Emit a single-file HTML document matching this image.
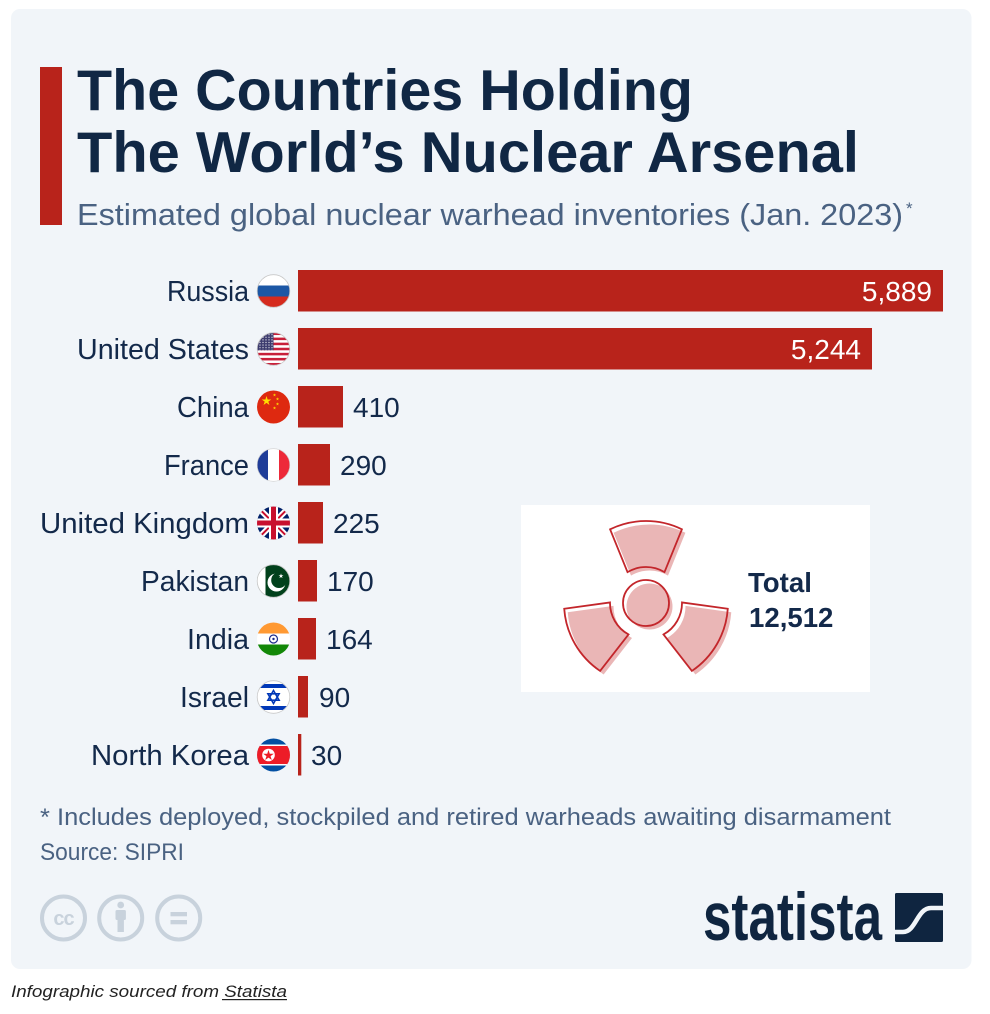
<!DOCTYPE html>
<html>
<head>
<meta charset="utf-8">
<style>
html,body{margin:0;padding:0;background:#fff;}
svg{display:block;}
</style>
</head>
<body>
<svg width="990" height="1014" viewBox="0 0 990 1014" xmlns="http://www.w3.org/2000/svg" font-family="'Liberation Sans', Arial, sans-serif">
<defs>
  <clipPath id="fc"><circle cx="0" cy="0" r="16.5"/></clipPath>
  <path id="star" d="M0,-1 L0.2245,-0.309 L0.951,-0.309 L0.363,0.118 L0.588,0.809 L0,0.382 L-0.588,0.809 L-0.363,0.118 L-0.951,-0.309 L-0.2245,-0.309 Z"/>
  <pattern id="dots" x="0" y="0" width="3" height="2.6" patternUnits="userSpaceOnUse">
    <circle cx="1.5" cy="1.3" r="0.6" fill="#fff"/>
  </pattern>
  <path id="blade" d="M610.1,529.3 A82,82 0 0 1 681.9,529.3 L664.5,572.1 A36,36 0 0 0 627.5,572.1 Z"/>
</defs>

<!-- card -->
<rect x="11" y="9" width="960.5" height="960" rx="9" fill="#f1f5f9"/>

<!-- accent bar -->
<rect x="40" y="67" width="22" height="158" fill="#b8231b"/>

<!-- title -->
<text x="77" y="110" font-size="57.5" font-weight="bold" fill="#102744" textLength="616" lengthAdjust="spacingAndGlyphs">The Countries Holding</text>
<text x="77" y="172" font-size="57.5" font-weight="bold" fill="#102744" textLength="782" lengthAdjust="spacingAndGlyphs">The World’s Nuclear Arsenal</text>
<text x="77" y="225" font-size="31" fill="#4a6282" textLength="826" lengthAdjust="spacingAndGlyphs">Estimated global nuclear warhead inventories (Jan. 2023)</text>
<text x="906" y="214" font-size="17" fill="#4a6282">*</text>

<!-- bars -->
<g fill="#b8231b">
  <rect x="298" y="270" width="645" height="41.5"/>
  <rect x="298" y="328" width="574" height="41.5"/>
  <rect x="298" y="386" width="45" height="41.5"/>
  <rect x="298" y="444" width="32" height="41.5"/>
  <rect x="298" y="502" width="25" height="41.5"/>
  <rect x="298" y="560" width="19" height="41.5"/>
  <rect x="298" y="618" width="18" height="41.5"/>
  <rect x="298" y="676" width="10" height="41.5"/>
  <rect x="298" y="734" width="3.3" height="41.5"/>
</g>

<!-- labels -->
<g font-size="28.5" fill="#13294a" text-anchor="end" lengthAdjust="spacingAndGlyphs">
  <text x="249" y="301" textLength="82" lengthAdjust="spacingAndGlyphs">Russia</text>
  <text x="249" y="359" textLength="172" lengthAdjust="spacingAndGlyphs">United States</text>
  <text x="249" y="417" textLength="72" lengthAdjust="spacingAndGlyphs">China</text>
  <text x="249" y="475" textLength="85" lengthAdjust="spacingAndGlyphs">France</text>
  <text x="249" y="533" textLength="209" lengthAdjust="spacingAndGlyphs">United Kingdom</text>
  <text x="249" y="591" textLength="108" lengthAdjust="spacingAndGlyphs">Pakistan</text>
  <text x="249" y="649" textLength="62" lengthAdjust="spacingAndGlyphs">India</text>
  <text x="249" y="707" textLength="69" lengthAdjust="spacingAndGlyphs">Israel</text>
  <text x="249" y="765" textLength="158" lengthAdjust="spacingAndGlyphs">North Korea</text>
</g>

<!-- values -->
<g font-size="28" fill="#13294a">
  <text x="932" y="301" fill="#ffffff" text-anchor="end">5,889</text>
  <text x="861" y="359" fill="#ffffff" text-anchor="end">5,244</text>
  <text x="353" y="417">410</text>
  <text x="340" y="475">290</text>
  <text x="333" y="533">225</text>
  <text x="327" y="591">170</text>
  <text x="326" y="649">164</text>
  <text x="319" y="707">90</text>
  <text x="311" y="765">30</text>
</g>

<!-- flags -->
<!-- Russia -->
<g transform="translate(273.5,291)">
  <g clip-path="url(#fc)">
    <rect x="-17" y="-17" width="34" height="11.5" fill="#ffffff"/>
    <rect x="-17" y="-5.5" width="34" height="11" fill="#1c57a5"/>
    <rect x="-17" y="5.5" width="34" height="12" fill="#d52b1e"/>
  </g>
  <circle r="16.3" fill="none" stroke="#c8c8c8" stroke-width="0.8"/>
</g>
<!-- USA -->
<g transform="translate(273.5,349)">
  <g clip-path="url(#fc)">
    <rect x="-17" y="-17" width="34" height="34" fill="#ffffff"/>
    <g fill="#c8203a">
      <rect x="-17" y="-16.5" width="34" height="2.54"/>
      <rect x="-17" y="-11.42" width="34" height="2.54"/>
      <rect x="-17" y="-6.34" width="34" height="2.54"/>
      <rect x="-17" y="-1.26" width="34" height="2.54"/>
      <rect x="-17" y="3.82" width="34" height="2.54"/>
      <rect x="-17" y="8.9" width="34" height="2.54"/>
      <rect x="-17" y="13.98" width="34" height="2.54"/>
    </g>
    <rect x="-17" y="-17" width="17" height="18.3" fill="#3c3b6e"/>
    <rect x="-17" y="-17" width="17" height="18.3" fill="url(#dots)"/>
  </g>
  <circle r="16.3" fill="none" stroke="#c8c8c8" stroke-width="0.8"/>
</g>
<!-- China -->
<g transform="translate(273.5,407)">
  <g clip-path="url(#fc)">
    <rect x="-17" y="-17" width="34" height="34" fill="#de2910"/>
    <use href="#star" transform="translate(-7,-6) scale(5)" fill="#ffde00"/>
    <use href="#star" transform="translate(1,-12) scale(1.7)" fill="#ffde00"/>
    <use href="#star" transform="translate(4,-8) scale(1.7)" fill="#ffde00"/>
    <use href="#star" transform="translate(4,-3) scale(1.7)" fill="#ffde00"/>
    <use href="#star" transform="translate(1,1) scale(1.7)" fill="#ffde00"/>
  </g>
</g>
<!-- France -->
<g transform="translate(273.5,465)">
  <g clip-path="url(#fc)">
    <rect x="-17" y="-17" width="12" height="34" fill="#1f3d99"/>
    <rect x="-5.5" y="-17" width="11" height="34" fill="#ffffff"/>
    <rect x="5.5" y="-17" width="12" height="34" fill="#ed2939"/>
  </g>
  <circle r="16.3" fill="none" stroke="#d0d0d0" stroke-width="0.6"/>
</g>
<!-- UK -->
<g transform="translate(273.5,523)">
  <g clip-path="url(#fc)">
    <rect x="-17" y="-17" width="34" height="34" fill="#012169"/>
    <path d="M-17,-17 L17,17 M17,-17 L-17,17" stroke="#ffffff" stroke-width="6"/>
    <path d="M-17,-17 L17,17 M17,-17 L-17,17" stroke="#c8102e" stroke-width="2"/>
    <path d="M0,-17 V17 M-17,0 H17" stroke="#ffffff" stroke-width="9"/>
    <path d="M0,-17 V17 M-17,0 H17" stroke="#c8102e" stroke-width="5"/>
  </g>
</g>
<!-- Pakistan -->
<g transform="translate(273.5,581)">
  <g clip-path="url(#fc)">
    <rect x="-17" y="-17" width="34" height="34" fill="#01411c"/>
    <rect x="-17" y="-17" width="9" height="34" fill="#ffffff"/>
    <circle cx="3" cy="1.5" r="9" fill="#ffffff"/>
    <circle cx="5.5" cy="-0.8" r="7.8" fill="#01411c"/>
    <use href="#star" transform="translate(7.5,-5) scale(2.6)" fill="#ffffff"/>
  </g>
  <circle r="16.3" fill="none" stroke="#c8c8c8" stroke-width="0.8"/>
</g>
<!-- India -->
<g transform="translate(273.5,639)">
  <g clip-path="url(#fc)">
    <rect x="-17" y="-17" width="34" height="11.5" fill="#ff9933"/>
    <rect x="-17" y="-5.5" width="34" height="11" fill="#ffffff"/>
    <rect x="-17" y="5.5" width="34" height="12" fill="#138808"/>
    <circle r="4" fill="none" stroke="#1a2a8a" stroke-width="1.2"/>
    <circle r="1.2" fill="#1a2a8a"/>
  </g>
</g>
<!-- Israel -->
<g transform="translate(273.5,697)">
  <g clip-path="url(#fc)">
    <rect x="-17" y="-17" width="34" height="34" fill="#ffffff"/>
    <rect x="-17" y="-13" width="34" height="4" fill="#0038b8"/>
    <rect x="-17" y="9" width="34" height="4" fill="#0038b8"/>
    <path d="M0,-6.5 L5.6,3.2 L-5.6,3.2 Z M0,6.5 L5.6,-3.2 L-5.6,-3.2 Z" fill="none" stroke="#0038b8" stroke-width="1.6"/>
  </g>
  <circle r="16.3" fill="none" stroke="#c8c8c8" stroke-width="0.8"/>
</g>
<!-- North Korea -->
<g transform="translate(273.5,755)">
  <g clip-path="url(#fc)">
    <rect x="-17" y="-17" width="34" height="34" fill="#024fa2"/>
    <rect x="-17" y="-10.5" width="34" height="21" fill="#ffffff"/>
    <rect x="-17" y="-9" width="34" height="18" fill="#ed1c27"/>
    <circle cx="-5" cy="0" r="6.3" fill="#ffffff"/>
    <use href="#star" transform="translate(-5,0.5) scale(5.6)" fill="#ed1c27"/>
  </g>
</g>

<!-- total box -->
<rect x="521" y="505" width="349" height="187" fill="#ffffff"/>
<g>
  <g transform="translate(3.5,3.5)" fill="#eab6b6">
    <use href="#blade"/>
    <use href="#blade" transform="rotate(120 646 603)"/>
    <use href="#blade" transform="rotate(240 646 603)"/>
    <circle cx="646" cy="603" r="23"/>
  </g>
  <g fill="none" stroke="#c3262b" stroke-width="1.8" stroke-linejoin="miter">
    <use href="#blade"/>
    <use href="#blade" transform="rotate(120 646 603)"/>
    <use href="#blade" transform="rotate(240 646 603)"/>
    <circle cx="646" cy="603" r="23"/>
  </g>
</g>
<text x="748" y="592" font-size="27.6" font-weight="bold" fill="#13294a">Total</text>
<text x="749" y="627" font-size="27.6" font-weight="bold" fill="#13294a">12,512</text>

<!-- footnote -->
<text x="40" y="825" font-size="24" fill="#4a6282" textLength="851" lengthAdjust="spacingAndGlyphs">* Includes deployed, stockpiled and retired warheads awaiting disarmament</text>
<text x="40" y="860" font-size="24" fill="#4a6282" textLength="144" lengthAdjust="spacingAndGlyphs">Source: SIPRI</text>

<!-- CC icons -->
<g fill="none" stroke="#c8d2dc" stroke-width="4">
  <circle cx="63.5" cy="918" r="21.5"/>
  <circle cx="120.7" cy="918" r="21.5"/>
  <circle cx="178.7" cy="918" r="21.5"/>
</g>
<text x="63.5" y="925" font-size="20" font-weight="bold" fill="#c8d2dc" text-anchor="middle" letter-spacing="-1">cc</text>
<g fill="#c8d2dc">
  <circle cx="120.7" cy="905" r="3.4"/>
  <rect x="115.5" y="910" width="10.4" height="10" rx="1.5"/>
  <rect x="117.5" y="918" width="6.4" height="14"/>
  <rect x="170.5" y="912" width="16.5" height="4.3"/>
  <rect x="170.5" y="920" width="16.5" height="4.3"/>
</g>

<!-- statista logo -->
<text x="703" y="940" font-size="68" font-weight="bold" fill="#0f2540" textLength="179" lengthAdjust="spacingAndGlyphs">statista</text>
<rect x="895" y="893" width="48" height="49" rx="1.5" fill="#0f2540"/>
<path d="M893,932 L903,932 C916,932 917,908 931,908 L945,908" fill="none" stroke="#f1f5f9" stroke-width="4.5"/>

<!-- caption -->
<text x="11" y="997" font-size="17" font-style="italic" fill="#222222" textLength="276" lengthAdjust="spacingAndGlyphs">Infographic sourced from Statista</text>
<rect x="222" y="999" width="65" height="1.2" fill="#222222"/>
</svg>
</body>
</html>
